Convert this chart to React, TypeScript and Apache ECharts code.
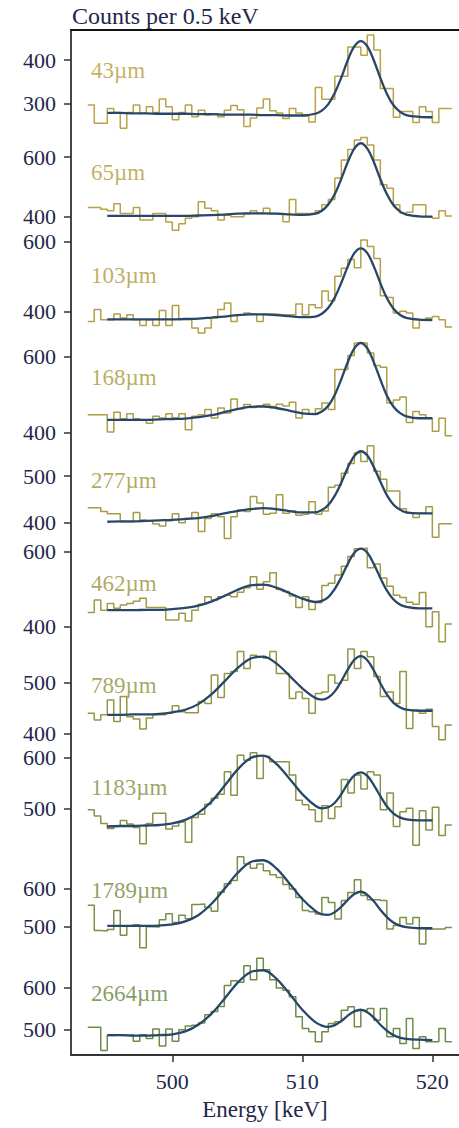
import React, { useEffect, useRef } from "react";
import * as echarts from "echarts";

// ---------------- DATA ----------------
const thicknessLabels = ["43µm", "65µm", "103µm", "168µm", "277µm", "462µm", "789µm", "1183µm", "1789µm", "2664µm"];

// histogram bins: 0.5 keV wide, first edge at 493.5 keV
const binStart = 493.5;
const binWidth = 0.5;

const xTickValues = [500, 510, 520];
const yTickValues = [
  [400, 300], [600, 400], [600, 400], [600, 400], [500, 400],
  [600, 400], [500, 400], [600, 500], [600, 500], [600, 500],
];

const counts43 = [297, 255, 255, 289, 280, 244, 280, 297, 278, 293, 280, 311, 293, 263, 280, 297, 270, 285, 274, 277, 270, 285, 296, 286, 248, 267, 290, 311, 284, 279, 266, 289, 279, 271, 258, 337, 310, 310, 363, 363, 430, 430, 411, 457, 423, 335, 335, 269, 282, 282, 257, 293, 282, 257, 289, 289];
const counts65 = [431, 431, 425, 420, 443, 411, 411, 431, 389, 389, 411, 411, 382, 355, 376, 395, 400, 450, 428, 420, 389, 405, 400, 400, 411, 420, 411, 428, 411, 411, 383, 458, 411, 411, 411, 420, 440, 458, 530, 590, 625, 657, 665, 640, 590, 507, 495, 440, 412, 415, 440, 440, 400, 395, 420, 402];
const counts103 = [371, 405, 376, 376, 392, 381, 390, 376, 359, 376, 359, 402, 359, 417, 376, 376, 352, 338, 352, 381, 405, 424, 371, 390, 395, 392, 371, 392, 392, 390, 390, 390, 421, 390, 419, 410, 458, 430, 501, 524, 549, 525, 605, 586, 552, 445, 440, 395, 400, 395, 352, 376, 381, 385, 376, 355];
const counts168 = [447, 447, 447, 402, 454, 437, 450, 437, 434, 425, 443, 439, 450, 439, 450, 408, 443, 447, 461, 439, 465, 452, 489, 463, 474, 466, 470, 475, 469, 475, 470, 480, 439, 461, 450, 463, 478, 461, 566, 566, 603, 636, 636, 610, 577, 572, 478, 486, 494, 427, 456, 447, 438, 404, 438, 392];
const counts277 = [432, 432, 424, 419, 419, 402, 402, 422, 406, 404, 397, 393, 404, 419, 400, 409, 422, 381, 409, 419, 413, 366, 413, 427, 424, 456, 442, 418, 420, 460, 420, 425, 416, 418, 445, 418, 425, 476, 480, 506, 527, 549, 531, 565, 510, 493, 468, 468, 430, 420, 411, 420, 434, 369, 398, 398];
const counts462 = [438, 471, 444, 462, 449, 458, 462, 468, 476, 451, 451, 451, 418, 418, 436, 415, 444, 460, 480, 471, 480, 484, 480, 492, 504, 533, 500, 520, 544, 499, 494, 482, 451, 480, 446, 464, 510, 516, 538, 561, 587, 608, 609, 557, 567, 530, 508, 484, 478, 465, 460, 491, 400, 440, 360, 407];
const counts789 = [440, 427, 437, 466, 424, 473, 433, 429, 409, 431, 437, 437, 440, 455, 443, 441, 441, 463, 459, 515, 471, 518, 522, 561, 528, 554, 551, 548, 561, 518, 518, 469, 482, 469, 440, 479, 482, 515, 499, 505, 566, 528, 561, 551, 512, 473, 482, 459, 522, 410, 446, 440, 448, 414, 388, 417];
const counts1183 = [497, 485, 470, 460, 465, 476, 469, 462, 430, 470, 490, 490, 459, 465, 473, 433, 482, 488, 508, 520, 528, 572, 526, 605, 595, 610, 559, 603, 592, 592, 592, 566, 516, 507, 497, 474, 505, 480, 503, 557, 530, 566, 538, 572, 566, 497, 530, 464, 493, 500, 427, 495, 457, 502, 446, 467];
const counts1789 = [556, 490, 489, 493, 542, 478, 501, 505, 445, 500, 499, 518, 534, 511, 530, 521, 558, 559, 550, 540, 590, 612, 620, 682, 663, 652, 663, 646, 635, 628, 610, 598, 576, 542, 539, 533, 576, 563, 520, 568, 589, 622, 581, 570, 570, 568, 494, 503, 524, 507, 524, 455, 494, 494, 494, 498];
const counts2664 = [505, 505, 449, 485, 486, 486, 487, 471, 487, 478, 501, 460, 501, 471, 499, 508, 510, 515, 535, 543, 555, 605, 617, 613, 653, 619, 671, 643, 619, 599, 594, 578, 530, 502, 494, 470, 494, 514, 518, 546, 554, 506, 546, 550, 522, 550, 482, 502, 466, 526, 454, 482, 470, 470, 502, 470];

const histCounts = [counts43, counts65, counts103, counts168, counts277, counts462, counts789, counts1183, counts1789, counts2664];

const fitEnergy = [495, 496, 497, 498, 499, 500, 501, 502, 503, 504, 505, 506, 507, 508, 509, 510, 511, 511.5, 512, 512.5, 513, 513.5, 514, 514.5, 515, 515.5, 516, 516.5, 517, 517.5, 518, 519, 520];

const fit43 = [279, 279, 278, 278, 277, 277, 277, 276, 276, 275, 275, 275, 274, 274, 273, 273, 277, 284, 299, 325, 360, 400, 431, 443, 431, 399, 359, 323, 297, 282, 274, 270, 269];
const fit65 = [403, 403, 403, 403, 403, 403, 403, 404, 405, 407, 410, 411, 411, 410, 408, 406, 410, 420, 441, 476, 527, 583, 628, 646, 628, 583, 526, 476, 439, 418, 407, 401, 400];
const fit103 = [377, 377, 377, 377, 377, 377, 378, 379, 382, 385, 389, 391, 391, 389, 386, 383, 385, 393, 410, 440, 482, 529, 567, 581, 567, 529, 481, 438, 408, 390, 381, 376, 375];
const fit168 = [434, 434, 434, 434, 435, 436, 437, 441, 446, 454, 462, 468, 469, 465, 458, 451, 449, 456, 471, 500, 541, 586, 622, 636, 622, 585, 540, 498, 469, 452, 443, 438, 438];
const fit277 = [402, 403, 403, 404, 405, 406, 408, 410, 414, 420, 425, 429, 431, 429, 425, 422, 422, 427, 438, 458, 486, 518, 543, 553, 544, 519, 488, 459, 439, 428, 422, 420, 420];
const fit462 = [444, 444, 444, 445, 445, 447, 450, 456, 467, 482, 498, 510, 512, 504, 490, 475, 466, 469, 479, 501, 532, 568, 597, 608, 597, 567, 530, 497, 473, 459, 453, 449, 449];
const fit789 = [437, 437, 438, 438, 439, 442, 447, 458, 477, 502, 528, 547, 551, 538, 514, 489, 470, 467, 471, 483, 503, 526, 545, 552, 544, 524, 499, 477, 461, 452, 447, 445, 445];
const fit1183 = [464, 465, 465, 466, 467, 470, 477, 491, 513, 544, 576, 599, 604, 588, 559, 528, 505, 500, 502, 511, 528, 549, 565, 571, 564, 546, 524, 504, 490, 482, 478, 476, 476];
const fit1789 = [502, 502, 502, 502, 503, 506, 514, 530, 559, 598, 639, 668, 673, 652, 613, 572, 541, 532, 531, 538, 552, 570, 585, 591, 583, 566, 544, 525, 511, 503, 499, 496, 496];
const fit2664 = [486, 486, 485, 485, 486, 488, 495, 511, 537, 573, 611, 637, 642, 622, 586, 547, 517, 509, 506, 510, 520, 533, 543, 547, 541, 528, 511, 497, 486, 480, 477, 475, 474];

const fitCurves = [fit43, fit65, fit103, fit168, fit277, fit462, fit789, fit1183, fit1789, fit2664];

// ---------------- LAYOUT / STYLE ----------------
const WIDTH = 459;
const HEIGHT = 1128;
const PLOT_LEFT = 71;
const PLOT_TOP = 30;
const PLOT_BOTTOM = 1055;
const X_MIN = 492.21;
const X_MAX = 522.05;
// pixel rows of each panel's two tick values
const tickPixelY = [
  [60, 103.7], [157, 216.7], [241.7, 311.3], [356.7, 432.7], [476, 522.7],
  [551.7, 626.7], [682.7, 733.7], [757.7, 808.3], [888.3, 926.7], [987.7, 1029.3],
];
const labelPixelY = [70.5, 172.5, 275, 377, 480, 583, 685, 787.5, 890, 993];
const histColors = ["#bba246", "#b8a146", "#b3a046", "#ad9e46", "#a69c46", "#9f9a46", "#959747", "#899448", "#7c9048", "#6e8c49"];
const FIT_COLOR = "#27466a";
const TEXT_COLOR = "#22274a";
const SPINE_COLOR = "#333333";
const FONT = "Liberation Serif";

export default function App() {
  const ref = useRef<HTMLDivElement>(null);

  useEffect(() => {
    if (!ref.current) return;
    const chart = echarts.init(ref.current, null, { renderer: "svg" });
    const plotHeight = PLOT_BOTTOM - PLOT_TOP;
    const gridBox = { left: PLOT_LEFT, top: PLOT_TOP, width: WIDTH - PLOT_LEFT, height: plotHeight };

    const grids: any[] = [{ ...gridBox }];
    const xAxes: any[] = [
      {
        gridIndex: 0,
        type: "value",
        position: "bottom",
        min: X_MIN,
        max: X_MAX,
        axisLine: { show: true, onZero: false, lineStyle: { color: SPINE_COLOR, width: 1.8 } },
        axisTick: { show: true, customValues: xTickValues, length: 7, lineStyle: { color: SPINE_COLOR, width: 1.5 } },
        axisLabel: { customValues: xTickValues, margin: 15, fontFamily: FONT, fontSize: 22, color: TEXT_COLOR },
        splitLine: { show: false },
        name: "Energy [keV]",
        nameLocation: "middle",
        nameGap: 43,
        nameTextStyle: { fontFamily: FONT, fontSize: 23, color: TEXT_COLOR },
      },
      {
        gridIndex: 0,
        type: "value",
        position: "top",
        min: X_MIN,
        max: X_MAX,
        axisLine: { show: true, onZero: false, lineStyle: { color: "#111111", width: 1.8 } },
        axisTick: { show: false },
        axisLabel: { show: false },
        splitLine: { show: false },
      },
    ];
    const yAxes: any[] = [
      {
        gridIndex: 0,
        type: "value",
        min: 0,
        max: 1,
        axisLine: { show: true, onZero: false, lineStyle: { color: SPINE_COLOR, width: 1.8 } },
        axisTick: { show: false },
        axisLabel: { show: false },
        splitLine: { show: false },
      },
    ];
    const series: any[] = [];
    const graphics: any[] = [
      {
        type: "text",
        x: 72,
        y: 16,
        style: { text: "Counts per 0.5 keV", fontFamily: FONT, fontSize: 24, fill: TEXT_COLOR, verticalAlign: "middle", align: "left" },
      },
    ];

    histCounts.forEach((counts, i) => {
      const gi = grids.length;
      grids.push({ ...gridBox });
      const xi = xAxes.length;
      xAxes.push({ gridIndex: gi, type: "value", min: X_MIN, max: X_MAX, show: false });
      const [a, b] = yTickValues[i];
      const [ya, yb] = tickPixelY[i];
      const ppc = (yb - ya) / (a - b);
      const yMax = a + (ya - PLOT_TOP) / ppc;
      const yMin = b - (PLOT_BOTTOM - yb) / ppc;
      const yi = yAxes.length;
      yAxes.push({
        gridIndex: gi,
        type: "value",
        min: yMin,
        max: yMax,
        axisLine: { show: false },
        splitLine: { show: false },
        axisTick: { show: true, customValues: yTickValues[i], length: 7, lineStyle: { color: SPINE_COLOR, width: 1.5 } },
        axisLabel: { customValues: yTickValues[i], margin: 15, fontFamily: FONT, fontSize: 22, color: TEXT_COLOR },
      });

      const histData: number[][] = counts.map((c, k) => [binStart + k * binWidth, c]);
      histData.push([binStart + counts.length * binWidth, counts[counts.length - 1]]);
      series.push({
        type: "line",
        xAxisIndex: xi,
        yAxisIndex: yi,
        step: "end",
        data: histData,
        symbol: "none",
        clip: false,
        lineStyle: { color: histColors[i], width: 1.5 },
        z: 2,
        silent: true,
      });
      series.push({
        type: "line",
        xAxisIndex: xi,
        yAxisIndex: yi,
        smooth: 0.35,
        data: fitEnergy.map((e, k) => [e, fitCurves[i][k]]),
        symbol: "none",
        clip: false,
        lineStyle: { color: FIT_COLOR, width: 2.3 },
        z: 3,
        silent: true,
      });

      graphics.push({
        type: "text",
        x: 91,
        y: labelPixelY[i],
        style: {
          text: thicknessLabels[i],
          fontFamily: FONT,
          fontSize: 23,
          fill: histColors[i],
          opacity: 0.85,
          verticalAlign: "middle",
          align: "left",
        },
      });
    });

    chart.setOption({
      animation: false,
      backgroundColor: "#ffffff",
      grid: grids,
      xAxis: xAxes,
      yAxis: yAxes,
      series,
      graphic: graphics,
    });

    return () => chart.dispose();
  }, []);

  return (
    <div
      ref={ref}
      style={{ position: "absolute", left: 0, top: 0, width: WIDTH, height: HEIGHT, background: "#ffffff" }}
    />
  );
}
